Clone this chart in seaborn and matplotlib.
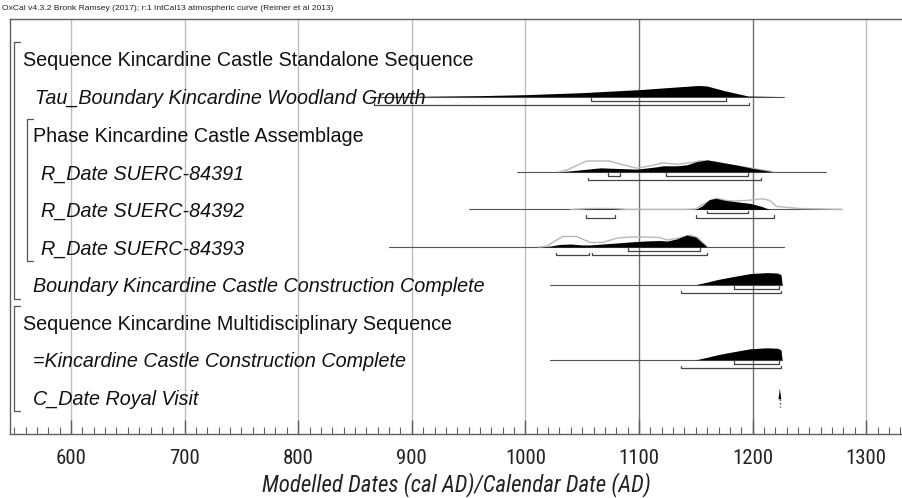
import numpy as np
import pandas as pd
import matplotlib
matplotlib.use("Agg")
import matplotlib.pyplot as plt
import matplotlib.transforms as mtransforms
from matplotlib import font_manager
import seaborn as sns

# ---------------- data ----------------
title_text = "OxCal v4.3.2 Bronk Ramsey (2017); r:1 IntCal13 atmospheric curve (Reimer et al 2013)"
xlabel_text = "Modelled Dates (cal AD)/Calendar Date (AD)"
row_labels = [
    "Sequence Kincardine Castle Standalone Sequence",
    "Tau_Boundary Kincardine Woodland Growth",
    "Phase Kincardine Castle Assemblage",
    "R_Date SUERC-84391",
    "R_Date SUERC-84392",
    "R_Date SUERC-84393",
    "Boundary Kincardine Castle Construction Complete",
    "Sequence Kincardine Multidisciplinary Sequence",
    "=Kincardine Castle Construction Complete",
    "C_Date Royal Visit",
]
row_italic = [False, True, False, True, True, True, True, False, True, True]
tick_years = [600, 700, 800, 900, 1000, 1100, 1200, 1300]

# Tau_Boundary Kincardine Woodland Growth (row 1)
tau_range = [863, 1228]
tau_years = [865, 900, 960, 1000, 1050, 1100, 1130, 1153, 1160, 1175, 1196, 1228]
tau_post = [0.0, 0.02, 0.08, 0.16, 0.33, 0.58, 0.78, 0.93, 0.88, 0.5, 0.05, 0.0]
tau_hpd68 = [(1058, 1177)]
tau_hpd95 = [(867, 1197)]

# R_Date SUERC-84391 (row 3)
s91_range = [993, 1265]
s91_like_years = [1030, 1037, 1054, 1074, 1086, 1098, 1110, 1121, 1133, 1145, 1154, 1165, 1180, 1200, 1218]
s91_like = [0.0, 0.17, 0.9, 0.9, 0.58, 0.3, 0.5, 0.75, 0.62, 0.75, 0.92, 0.83, 0.58, 0.29, 0.0]
s91_post_years = [1030, 1040, 1066, 1090, 1098, 1116, 1121, 1133, 1142, 1150, 1160, 1170, 1185, 1200, 1218]
s91_post = [0.0, 0.08, 0.33, 0.25, 0.22, 0.42, 0.5, 0.5, 0.58, 0.83, 1.0, 0.83, 0.58, 0.29, 0.0]
s91_hpd68 = [(1073, 1083), (1124, 1196)]
s91_hpd95 = [(1055, 1207)]

# R_Date SUERC-84392 (row 4)
s92_range = [950, 1279]
s92_like_years = [1040, 1055, 1066, 1079, 1090, 1140, 1150, 1156, 1168, 1176, 1183, 1195, 1200, 1209, 1215, 1221, 1240, 1279]
s92_like = [0.0, 0.07, 0.08, 0.07, 0.0, 0.0, 0.04, 0.42, 0.92, 0.75, 0.7, 0.75, 0.8, 0.88, 0.75, 0.25, 0.08, 0.0]
s92_post_years = [1050, 1055, 1066, 1079, 1085, 1150, 1156, 1162, 1168, 1176, 1183, 1198, 1208, 1215]
s92_post = [0.0, 0.03, 0.04, 0.03, 0.0, 0.0, 0.33, 0.83, 0.92, 0.75, 0.67, 0.5, 0.25, 0.0]
s92_hpd68 = [(1160, 1196)]
s92_hpd95 = [(1053, 1079), (1150, 1219)]

# R_Date SUERC-84393 (row 5)
s93_range = [880, 1228]
s93_like_years = [1012, 1019, 1026, 1033, 1045, 1057, 1068, 1081, 1092, 1105, 1118, 1125, 1135, 1145, 1152, 1160]
s93_like = [0.0, 0.08, 0.5, 0.88, 0.88, 0.38, 0.38, 0.75, 0.83, 0.83, 0.8, 0.58, 0.75, 1.0, 0.75, 0.0]
s93_post_years = [1015, 1022, 1030, 1040, 1050, 1057, 1068, 1080, 1092, 1105, 1118, 1125, 1133, 1142, 1150, 1156, 1160]
s93_post = [0.0, 0.08, 0.21, 0.25, 0.17, 0.17, 0.25, 0.33, 0.42, 0.5, 0.54, 0.5, 0.67, 1.0, 0.83, 0.33, 0.0]
s93_hpd68 = [(1090, 1154)]
s93_hpd95 = [(1027, 1056), (1059, 1160)]

# Boundary Kincardine Castle Construction Complete (rows 6 and 8)
cc_range = [1022, 1226]
cc_years = [1150, 1160, 1169, 1183, 1198, 1213, 1222, 1225, 1226]
cc_post = [0.0, 0.21, 0.42, 0.67, 0.92, 1.0, 0.96, 0.83, 0.0]
cc_hpd68 = [(1184, 1223)]
cc_hpd95 = [(1137, 1225)]

# C_Date Royal Visit (row 9)
royal_visit_year = 1224

# ---------------- style ----------------
sns.set_theme(style="white")
plt.rcParams["font.family"] = ["Liberation Sans", "DejaVu Sans"]

_avail = {f.name for f in font_manager.fontManager.ttflist}
_narrow = [n for n in ["Liberation Sans Narrow", "DejaVu Sans Condensed", "Roboto Condensed",
                       "Open Sans Condensed"] if n in _avail]
NARROW = _narrow[:1] + ["Liberation Sans", "DejaVu Sans"]
HAS_NARROW = bool(_narrow)

W, H = 903, 498
fig = plt.figure(figsize=(W / 100, H / 100), dpi=100)
ax_left, ax_right, ax_top, ax_bot = 10, 903, 19, 434
ax = fig.add_axes([ax_left / W, 1 - ax_bot / H, (ax_right - ax_left) / W, (ax_bot - ax_top) / H])
PX_PER_YEAR = 1.136
x0 = 600 - (71 - ax_left) / PX_PER_YEAR
x1 = 600 + (ax_right - 71) / PX_PER_YEAR
ax.set_xlim(x0, x1)
ROW = 37.6
ax.set_ylim((ax_bot - 59) / ROW, -(59 - ax_top) / ROW)
ax.set_facecolor("white")

for s in ["top", "left", "bottom"]:
    ax.spines[s].set_visible(True)
    ax.spines[s].set_color("#606060")
    ax.spines[s].set_linewidth(1.0)
ax.spines["right"].set_visible(False)

# gridlines
for yr in tick_years:
    col = "#707070" if yr in (1100, 1200) else "#bdbdbd"
    ax.axvline(yr, color=col, lw=1.0, zorder=0)

ax.set_xticks(tick_years)
ax.set_xticks(np.arange(550, 1340, 10), minor=True)
tick_fs = 15 if HAS_NARROW else 14
ax.tick_params(axis="x", which="major", direction="in", length=10, width=1.0, color="#606060",
               pad=11, labelsize=tick_fs, labelcolor="#222222", bottom=True)
ax.tick_params(axis="x", which="minor", direction="in", length=5, width=0.8, color="#606060", bottom=True)
for lab in ax.get_xticklabels():
    lab.set_fontfamily(NARROW)
ax.set_yticks([])
ax.set_xlabel(xlabel_text, fontsize=16.5 if HAS_NARROW else 14, style="italic", family=NARROW,
              color="#222222", labelpad=3)

fig.text(2 / W, 1 - 8 / H, title_text, fontsize=6.1, va="center", ha="left", color="#222222")

# ---------------- row labels and brackets ----------------
tr = mtransforms.blended_transform_factory(ax.transAxes, ax.transData)
label_px = [23, 35, 33, 41, 41, 41, 33, 23, 33, 33]
for i, (txt, it, px) in enumerate(zip(row_labels, row_italic, label_px)):
    ax.text((px - ax_left) / (ax_right - ax_left), i, txt, transform=tr, fontsize=14.2,
            style="italic" if it else "normal", va="center_baseline", ha="left", color="#111111", zorder=3)


def bracket(xpx, r0, r1):
    xa = (xpx - ax_left) / (ax_right - ax_left)
    xb = (xpx + 6 - ax_left) / (ax_right - ax_left)
    ax.plot([xb, xa, xa, xb], [r0, r0, r1, r1], transform=tr, color="#555555", lw=0.9, zorder=2)


bracket(14, -0.45, 6.37)
bracket(27, 1.6, 5.37)
bracket(14, 6.57, 9.37)

# ---------------- distributions ----------------
PEAK = 12.0 / ROW  # peak height in row units
OFF68, OFF95, TICK = 4.0 / ROW, 8.5 / ROW, 2.5 / ROW


def hpd(row, ranges, off):
    for a, b in ranges:
        y = row + off
        ax.plot([a, a, b, b], [y - TICK, y, y, y - TICK], color="#444444", lw=0.9, zorder=4)


def draw(row, rng, years, post, h68, h95, like_years=None, like=None):
    base = pd.DataFrame({"year": rng, "y": [row, row]})
    sns.lineplot(data=base, x="year", y="y", ax=ax, color="#555555", lw=0.8, zorder=2, estimator=None)
    if like_years is not None:
        ld = pd.DataFrame({"year": like_years, "y": row - np.array(like) * PEAK})
        sns.lineplot(data=ld, x="year", y="y", ax=ax, color="#b8b8b8", lw=1.0, zorder=2,
                     estimator=None, sort=False)
    pd_ = pd.DataFrame({"year": years, "d": post})
    ax.fill_between(pd_["year"], row, row - pd_["d"] * PEAK, color="black", lw=0, zorder=3)
    hpd(row, h68, OFF68)
    hpd(row, h95, OFF95)


draw(1, tau_range, tau_years, tau_post, tau_hpd68, tau_hpd95)
draw(3, s91_range, s91_post_years, s91_post, s91_hpd68, s91_hpd95, s91_like_years, s91_like)
draw(4, s92_range, s92_post_years, s92_post, s92_hpd68, s92_hpd95, s92_like_years, s92_like)
draw(5, s93_range, s93_post_years, s93_post, s93_hpd68, s93_hpd95, s93_like_years, s93_like)
draw(6, cc_range, cc_years, cc_post, cc_hpd68, cc_hpd95)
draw(8, cc_range, cc_years, cc_post, cc_hpd68, cc_hpd95)

# C_Date Royal Visit: single calendar date spike
rv = royal_visit_year
ax.fill([rv - 1.2, rv, rv + 1.2], [9.05, 9.05 - 11 / ROW, 9.05], color="black", lw=0, zorder=3)
ax.plot([rv, rv], [9.05, 9.05 + 8 / ROW], color="#444444", lw=1.0, ls=(0, (1, 1.5)), zorder=3)

ax.set_ylabel("")
fig.savefig("out.png", dpi=100)
